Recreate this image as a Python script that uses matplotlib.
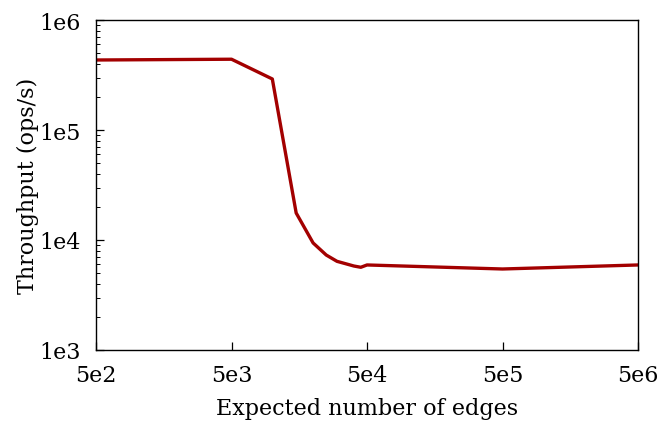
import numpy as np
import matplotlib.pyplot as plt
from matplotlib.ticker import FixedLocator, LogLocator, NullLocator

# valores
edges = [500, 5000, 10000, 15000, 20000, 25000, 30000, 40000, 45000, 50000, 500000, 5000000]
throughput = [4.33e5, 4.4e5, 2.91e5, 1.76e4, 9.4e3, 7.3e3, 6.4e3, 5.8e3, 5.65e3, 5.93e3, 5.45e3, 5.93e3]

xticks = [5e2, 5e3, 5e4, 5e5, 5e6]
xlabels = ['5e2', '5e3', '5e4', '5e5', '5e6']
yticks = [1e3, 1e4, 1e5, 1e6]
ylabels = ['1e3', '1e4', '1e5', '1e6']

plt.rcParams['font.family'] = ['DejaVu Serif']

fig = plt.figure(figsize=(6.6, 4.27), dpi=100)
ax = fig.add_axes([0.1455, 0.178, 0.8212, 0.7728])

ax.plot(edges, throughput, color='#a30000', linewidth=2.4)

ax.set_xscale('log')
ax.set_yscale('log')
ax.set_xlim(5e2, 5e6)
ax.set_ylim(1e3, 1e6)

ax.xaxis.set_major_locator(FixedLocator(xticks))
ax.set_xticklabels(xlabels)
ax.xaxis.set_minor_locator(NullLocator())
ax.yaxis.set_major_locator(FixedLocator(yticks))
ax.set_yticklabels(ylabels)
ax.yaxis.set_minor_locator(LogLocator(base=10, subs=np.arange(2, 10)))

ax.tick_params(axis='both', which='major', direction='in', length=6, width=0.9, labelsize=16)
ax.tick_params(axis='y', which='minor', direction='in', length=3, width=0.7)
ax.tick_params(axis='y', pad=11)
ax.tick_params(axis='x', pad=10)

for s in ax.spines.values():
    s.set_linewidth(1.0)

ax.set_xlabel('Expected number of edges', fontsize=16, labelpad=8)
ax.set_ylabel('Throughput (ops/s)', fontsize=16, labelpad=0)

fig.savefig('out.png', dpi=100)
